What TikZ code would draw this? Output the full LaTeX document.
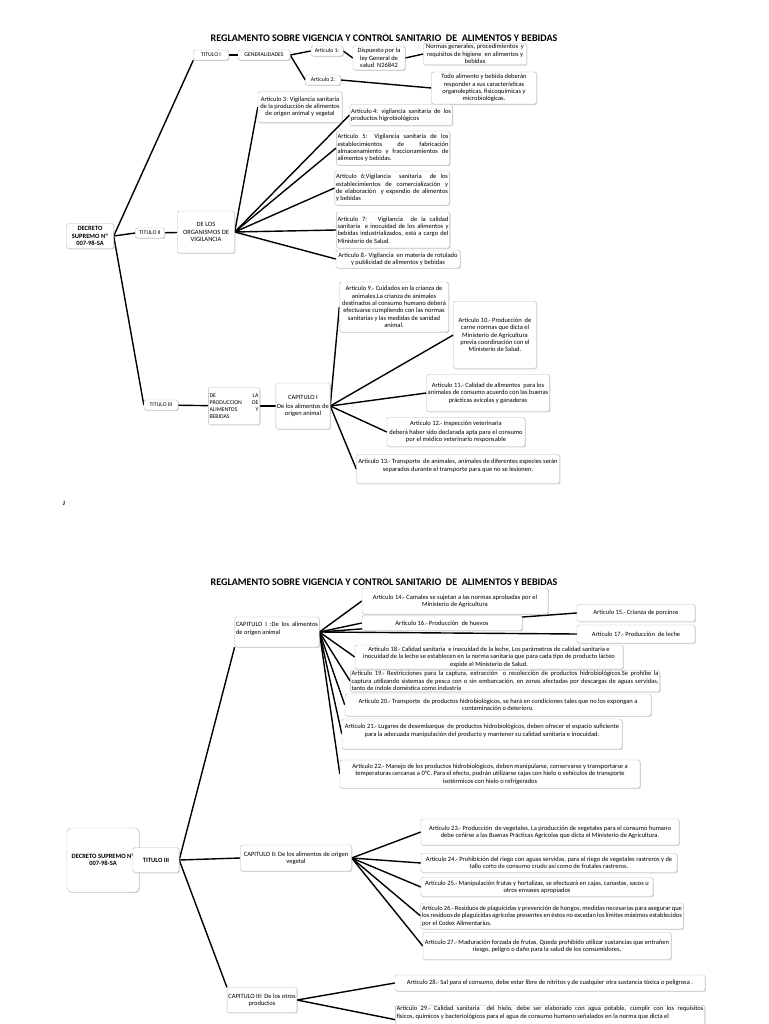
\documentclass[tikz,border=0pt]{standalone}
\usepackage{fontspec}
\setmainfont{Carlito}
\usetikzlibrary{shadows,backgrounds}
\newcommand{\artsize}{\fontsize{6.5}{7.3}\selectfont}
\newcommand{\titsize}{\fontsize{5.8}{6.8}\selectfont}
\newcommand{\headsize}{\fontsize{10.1}{12}\selectfont\bfseries}

\begin{document}
\begin{tikzpicture}[
    x=1pt, y=-1pt,
    box/.style={draw=gray!55, fill=white, rounded corners=1.5pt, inner sep=1.2pt,
        drop shadow={shadow xshift=0.8pt, shadow yshift=-0.8pt, opacity=0.35},
        font=\artsize, align=center},
    jbox/.style={box, align=justify},
    tbox/.style={box, font=\titsize},
    link/.style={line width=1.4pt, black},
    heading/.style={font=\headsize}
]
\useasboundingbox (0,0) rectangle (768,1024);

% === PART ONE ===
\node[heading] (headA) at (384,38) {REGLAMENTO SOBRE VIGENCIA Y CONTROL SANITARIO \ DE \ ALIMENTOS Y BEBIDAS};

\node[box, font=\artsize\bfseries, minimum width=47, minimum height=25] (decA) at (90,236) {DECRETO\\SUPREMO Nº\\007-98-SA};

% titulo I
\node[tbox, minimum width=35, minimum height=10] (tit1) at (211,55) {TITULO I};
\node[tbox, minimum width=52, minimum height=10] (gen) at (264,55) {GENERALIDADES};
\node[tbox, minimum width=32, minimum height=10] (art1) at (327,51) {Artículo 1:};
\node[box, minimum width=52, minimum height=24] (disp) at (379,58) {Dispuesto por la\\ley General de\\salud \ N26842};
\node[box, minimum width=103, minimum height=20] (norm) at (475,54) {Normas generales, procedimientos \ y\\requisitos de higiene \ en alimentos y\\bebidas};
\node[tbox, minimum width=35, minimum height=10] (art2) at (323,80) {Artículo 2:};
\node[box, minimum width=105, minimum height=32] (todo) at (484,88) {Todo alimento y bebida deberán\\responder a sus características\\organolepticas, fisicoquímicas y\\microbiológicas.};

% titulo II
\node[tbox, minimum width=29, minimum height=10] (tit2) at (150,233) {TITULO II};
\node[box, minimum width=57, minimum height=42] (org) at (206,232) {DE LOS\\ORGANISMOS DE\\VIGILANCIA};
\node[box, minimum width=84, minimum height=31] (art3) at (300,107) {Artículo 3: Vigilancia sanitaria\\de la producción de alimentos\\de origen animal y vegetal};
\node[jbox, text width=100pt, minimum height=21] (art4) at (401,115) {Artículo 4: \ vigilancia \ sanitaria \ de \ los\linebreak productos higrobiológicos};
\node[jbox, text width=111pt, minimum height=34] (art5) at (393,148) {Artículo 5: Vigilancia sanitaria de los\linebreak establecimientos de fabricación\linebreak almacenamiento y fraccionamientos de\linebreak alimentos y bebidas.};
\node[jbox, text width=112pt, minimum height=34] (art6) at (392,188) {Artículo 6:Vigilancia \ sanitaria \ de los\linebreak establecimientos de comercialización y\linebreak de elaboración \ y expendio de alimentos\linebreak y bebidas};
\node[jbox, text width=111pt, minimum height=36] (art7) at (393,230) {Artículo 7: \ Vigilancia \ de la calidad\linebreak sanitaria \ e inocuidad de los alimentos y\linebreak bebidas industrializados, está a cargo del\linebreak Ministerio de Salud.};
\node[box, minimum width=124, minimum height=18] (art8) at (398,259) {Artículo 8.- Vigilancia \ en materia de rotulado\\y publicidad de alimentos y bebidas};

% titulo III
\node[tbox, minimum width=34, minimum height=10] (tit3) at (161,405) {TITULO III};
\node[jbox, font=\titsize, text width=49pt, minimum height=37] (prod) at (234,406) {DE LA\linebreak PRODUCCION DE\linebreak ALIMENTOS Y\linebreak BEBIDAS};
\node[box, minimum width=54, minimum height=46] (cap1) at (303,406) {CAPITULO I\\[2pt]De los alimentos de\\origen animal};
\node[box, minimum width=109, minimum height=50] (art9) at (394,307) {Artículo 9.- Cuidados en la crianza de\\animales,La crianza de animales\\destinados al consumo humano deberá\\efectuarse cumpliendo con las normas\\sanitarias y las medidas de sanidad\\animal.};
\node[box, minimum width=83, minimum height=67] (art10) at (495,335) {Artículo 10.- Producción \ de\\carne normas que dicta el\\Ministerio de Agricultura\\previa coordinación con el\\Ministerio de Salud.};
\node[box, minimum width=108, minimum height=37] (art11) at (488,393) {Artículo 11.- Calidad de alimentos \ para los\\animales de consumo acuerdo con las buenas\\prácticas avícolas y ganaderas};
\node[box, minimum width=138, minimum height=29] (art12) at (456,432) {Artículo 12.- Inspección veterinaria\\[1pt]deberá haber sido declarada apta para el consumo\\por el médico veterinario responsable};
\node[box, minimum width=203, minimum height=29] (art13) at (458,469) {Artículo 13.- Transporte \ de animales, animales de diferentes especies serán\\separados durante el transporte para que no se lesionen.\\~};

\node[font=\artsize\bfseries] (jmark) at (64,503) {J};

% === PART TWO ===
\node[heading] (headB) at (384,582) {REGLAMENTO SOBRE VIGENCIA Y CONTROL SANITARIO \ DE \ ALIMENTOS Y BEBIDAS};

\node[box, font=\artsize\bfseries, rounded corners=4pt, minimum width=72, minimum height=64] (decB) at (103,860) {DECRETO SUPREMO Nº\\007-98-SA};
\node[box, font=\artsize\bfseries, minimum width=46, minimum height=25] (tit3b) at (156,860) {TITULO III};

% capitulo I
\node[jbox, text width=82pt, minimum height=30] (capA) at (277,632) {CAPITULO I :De los alimentos\linebreak de origen animal\\~};
\node[box, minimum width=186, minimum height=26] (art14) at (455,601) {Artículo 14.- Camales se sujetan a las normas aprobadas por el\\Ministerio de Agricultura};
\node[box, minimum width=160, minimum height=15] (art16) at (442,623) {Artículo 16.- Producción \ de huevos};
\node[box, minimum width=118, minimum height=17] (art15) at (636,613) {Artículo 15.- Crianza de porcinos};
\node[box, minimum width=118, minimum height=18] (art17) at (636,634) {Artículo 17.- Producción \ de leche};
\node[box, minimum width=268, minimum height=24] (art18) at (489,657) {Artículo 18.- Calidad sanitaria \ e inocuidad de la leche, Los parámetros de calidad sanitaria e\\inocuidad de la leche se establecen en la norma sanitaria que para cada tipo de producto lácteo\\expide el Ministerio de Salud.};
\node[jbox, text width=307pt, minimum height=21] (art19) at (505,681) {Artículo 19.- Restricciones para la captura, extracción \ o recolección de productos hidrobiológicos.Se prohíbe la\linebreak captura utilizando sistemas de pesca con o sin embarcación, en zonas afectadas por descargas de aguas servidas,\linebreak tanto de índole doméstica como industria};
\node[box, minimum width=306, minimum height=22] (art20) at (498,705) {Artículo 20.- Transporte \ de productos hidrobiológicos, se hará en condiciones tales que no los expongan a\\contaminación o deterioro.};
\node[box, minimum width=280, minimum height=30] (art21) at (482,734) {Artículo 21.- Lugares de desembarque \ de productos hidrobiológicos, deben ofrecer el espacio suficiente\\para la adecuada manipulación del producto y mantener su calidad sanitaria e inocuidad.\\~};
\node[box, minimum width=300, minimum height=28] (art22) at (490,774) {Artículo 22.- Manejo de los productos hidrobiológicos, deben manipularse, conservarse y transportarse a\\temperaturas cercanas a 0°C. Para el efecto, podrán utilizarse cajas con hielo o vehículos de transporte\\isotérmicos con hielo o refrigerados};

% capitulo II
\node[box, minimum width=111, minimum height=26] (capB) at (296,858) {CAPITULO II: De los alimentos de origen\\vegetal};
\node[box, minimum width=258, minimum height=26] (art23) at (550,832) {Artículo 23.- Producción \ de vegetales, La producción de vegetales para el consumo humano\\debe ceñirse a las Buenas Prácticas Agrícolas que dicta el Ministerio de Agricultura.};
\node[box, minimum width=256, minimum height=19] (art24) at (549,863) {Artículo 24.- Prohibición del riego con aguas servidas, para el riego de vegetales rastreros y de\\tallo corto de consumo crudo así como de frutales rastreros.};
\node[box, minimum width=232, minimum height=19] (art25) at (537,887) {Artículo 25.- Manipulación frutas y hortalizas, se efectuará en cajas, canastas, sacos u\\otros envases apropiados};
\node[jbox, text width=260pt, minimum height=26] (art26) at (552,916) {Artículo 26.- Residuos de plaguicidas y prevención de hongos, medidas necesarias para asegurar que\linebreak los residuos de plaguicidas agrícolas presentes en éstos no excedan los límites máximos establecidos\linebreak por el Codex Alimentarius.};
\node[box, minimum width=248, minimum height=27] (art27) at (547,946) {Artículo 27.- Maduración forzada de frutas, Queda prohibido utilizar sustancias que entrañen\\riesgo, peligro o daño para la salud de los consumidores.};

% capitulo III
\node[box, minimum width=56, minimum height=25] (capC) at (262,1000) {CAPITULO III: De los otros\\productos};
\node[box, minimum width=310, minimum height=16] (art28) at (550,983) {Artículo 28.- Sal para el consumo, debe estar libre de nitritos y de cualquier otra sustancia tóxica o peligrosa .};
\node[jbox, text width=307pt, anchor=north] (art29) at (550,1005) {Artículo 29.- Calidad sanitaria \ del hielo, debe ser elaborado con agua potable, cumplir con los requisitos\linebreak físicos, químicos y bacteriológicos para el agua de consumo humano señalados en la norma que dicta el\\\mbox{}\\\mbox{}};

% === CONNECTORS ===
\begin{scope}[on background layer]
\draw[link] (decA.east) -- (tit1.south west);
\draw[link] (decA.east) -- (tit2.west);
\draw[link] (decA.east) -- (tit3.west);
\draw[link] (tit1) -- (gen);
\draw[link] (gen.east) -- (art1.west);
\draw[link] (gen.east) -- (art2.west);
\draw[link] (art1.east) -- (disp.west);
\draw[link] (disp.east) -- (norm.west);
\draw[link] (art2.east) -- (todo.west);
\draw[link] (tit2) -- (org);
\foreach \a in {art3,art4,art5,art6,art7,art8}
    \draw[link] (org.east) -- (\a.west);
\draw[link] (tit3) -- (prod);
\draw[link] (prod) -- (cap1);
\foreach \a in {art9,art10,art11,art12,art13}
    \draw[link] (cap1.east) -- (\a.west);
\draw[link] (tit3b.east) -- (capA.south west);
\draw[link] (tit3b.east) -- (capB.west);
\draw[link] (tit3b.east) -- (capC.north west);
\foreach \a in {art14,art16,art15,art17,art18,art19,art20,art21,art22}
    \draw[link] (capA.east) -- (\a.west);
\foreach \a in {art23,art24,art25,art26,art27}
    \draw[link] (capB.east) -- (\a.west);
\foreach \a in {art28,art29}
    \draw[link] (capC.east) -- (\a.west);
\end{scope}

\end{tikzpicture}
\end{document}
